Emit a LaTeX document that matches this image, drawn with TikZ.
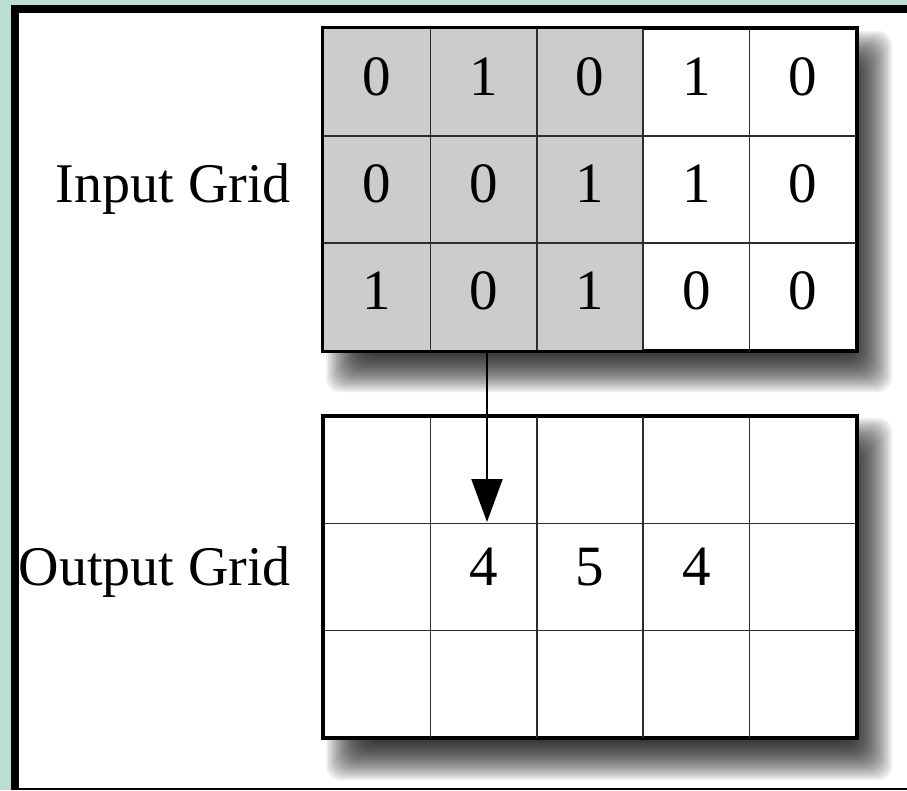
\documentclass[tikz,border=0pt]{standalone}
\usepackage{fontspec}
\setmainfont{Liberation Serif}
\usetikzlibrary{arrows.meta}
\definecolor{tealbg}{RGB}{186,222,211}
\definecolor{cellgray}{RGB}{204,204,204}
\definecolor{linegray}{RGB}{45,45,45}
\tikzset{
  gridbox/.style={draw=black, line width=2.6pt, fill=white, inner sep=0pt,
    minimum width=532pt, minimum height=321pt},
  shadowlayer/.style={fill=black, opacity=0.066, rounded corners=14pt},
  gridline/.style={draw=linegray, line width=1.7pt},
  cell/.style={anchor=base, inner sep=0pt, font=\fontsize{57}{60}\selectfont},
  lbl/.style={anchor=base east, inner sep=0pt, font=\fontsize{56}{60}\selectfont},
  arrowline/.style={line width=2pt, -{Triangle[width=31pt,length=43pt]}}
}
\begin{document}
\begin{tikzpicture}[x=1pt,y=-1pt]
\useasboundingbox (0,0) rectangle (907,790);
\fill[tealbg] (0,0) rectangle (907,790);
\fill[black] (11,5) rectangle (907,790);
\fill[white] (19,13) rectangle (907,788);

% shadows
\foreach \k in {0,...,25} {
  \fill[shadowlayer] ({352-26+2*\k},{57-26+2*\k}) rectangle ({866+26-2*\k},{366+26-2*\k});
  \fill[shadowlayer] ({352-26+2*\k},{444-26+2*\k}) rectangle ({866+26-2*\k},{754+26-2*\k});
}

% input grid
\node[gridbox] (inbox) at (590,189.5) {};
\fill[cellgray] (324,29) rectangle (643.2,350);
\foreach \i in {1,2,3,4} \draw[gridline] ({324+\i*106.4},29) -- ({324+\i*106.4},350);
\foreach \j in {1,2} \draw[gridline] (324,{29+\j*107}) -- (856,{29+\j*107});
\draw[black, line width=2.6pt] (inbox.north west) rectangle (inbox.south east);

\foreach \v [count=\c] in {0,1,0,1,0}
  \node[cell] (in-1-\c) at ({324+(\c-0.5)*106.4},95) {\v};
\foreach \v [count=\c] in {0,0,1,1,0}
  \node[cell] (in-2-\c) at ({324+(\c-0.5)*106.4},202) {\v};
\foreach \v [count=\c] in {1,0,1,0,0}
  \node[cell] (in-3-\c) at ({324+(\c-0.5)*106.4},309) {\v};

% output grid
\node[gridbox] (outbox) at (590,577) {};
\foreach \i in {1,2,3,4} \draw[gridline] ({324+\i*106.4},416.5) -- ({324+\i*106.4},737.5);
\foreach \j in {1,2} \draw[gridline] (324,{416.5+\j*107}) -- (856,{416.5+\j*107});
\draw[black, line width=2.6pt] (outbox.north west) rectangle (outbox.south east);

\foreach \v/\c in {4/2,5/3,4/4}
  \node[cell] (out-2-\c) at ({324+(\c-0.5)*106.4},585) {\v};

% labels
\node[lbl] (inlabel) at (291,202) {Input Grid};
\node[lbl] (outlabel) at (291,585) {Output Grid};

% arrow
\coordinate (arrowend) at (487,522);
\draw[arrowline] (inbox.south -| arrowend) -- (arrowend);
\end{tikzpicture}
\end{document}
